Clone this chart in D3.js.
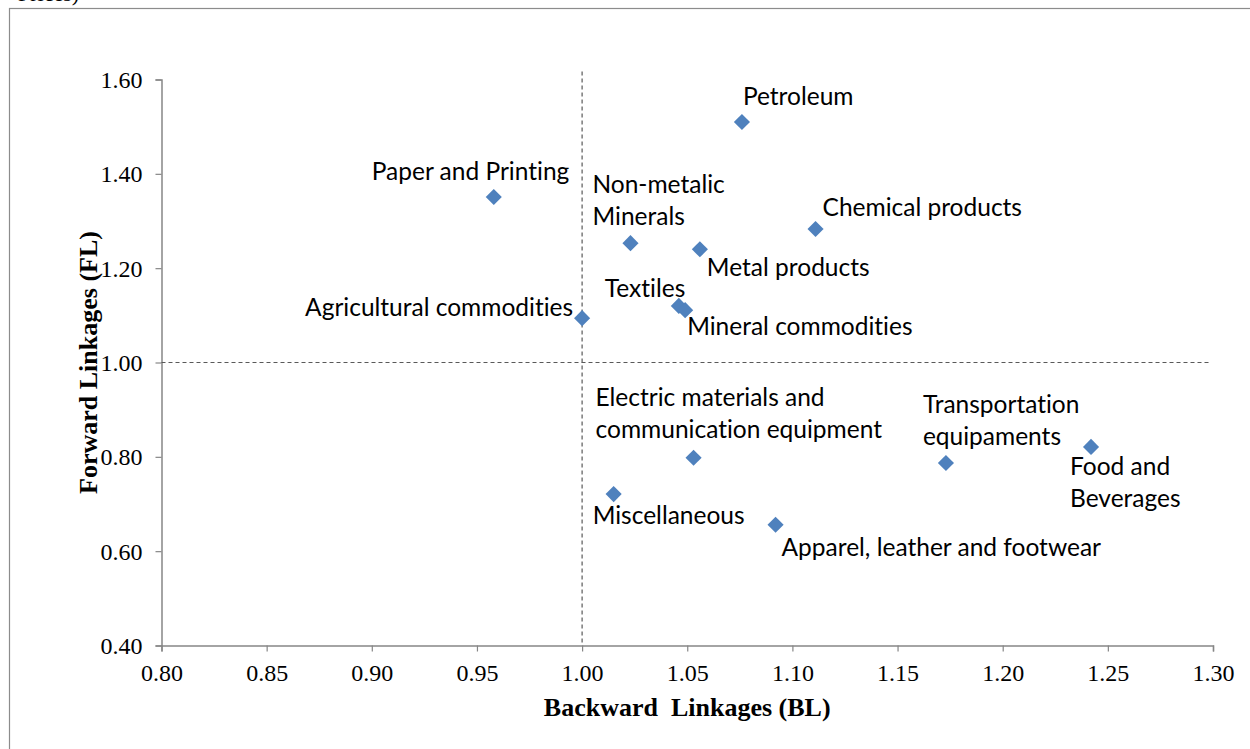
<!DOCTYPE html>
<html>
<head>
<meta charset="utf-8">
<script src="https://cdn.jsdelivr.net/npm/d3@7"></script>
<style>
  body { margin: 0; background: #fff; }
  svg { display: block; }
</style>
</head>
<body>
<svg id="chart"></svg>
<script>
// sectors and their linkage indices
const sectors = [
  'Petroleum', 'Paper and Printing', 'Non-metalic Minerals', 'Metal products',
  'Chemical products', 'Agricultural commodities', 'Textiles', 'Mineral commodities',
  'Electric materials and communication equipment', 'Miscellaneous',
  'Apparel, leather and footwear', 'Transportation equipaments', 'Food and Beverages'
];
const backward = [1.076, 0.958, 1.023, 1.056, 1.111, 1.000, 1.046, 1.049, 1.053, 1.015, 1.092, 1.173, 1.242];
const forward = [1.510, 1.351, 1.253, 1.240, 1.283, 1.094, 1.120, 1.111, 0.798, 0.721, 0.656, 0.787, 0.821];

// label text lines as they are broken in the picture
const labelLines = [
  ['Petroleum'], ['Paper and Printing'], ['Non-metalic', 'Minerals'], ['Metal products'],
  ['Chemical products'], ['Agricultural commodities'], ['Textiles'], ['Mineral commodities'],
  ['Electric materials and', 'communication equipment'], ['Miscellaneous'],
  ['Apparel, leather and footwear'], ['Transportation', 'equipaments'], ['Food and', 'Beverages']
];

const xTicks = [0.80, 0.85, 0.90, 0.95, 1.00, 1.05, 1.10, 1.15, 1.20, 1.25, 1.30];
const yTicks = [0.40, 0.60, 0.80, 1.00, 1.20, 1.40, 1.60];

// label placement relative to the marker: [dx, dy of first baseline, anchor]
const labelPlace = [
  [1, -17, 'start'], [-122, -17, 'start'], [-38, -50, 'start'], [7, 27, 'start'],
  [7, -13, 'start'], [-9, -2, 'end'], [-74, -9, 'start'], [2, 25, 'start'],
  [-98, -52, 'start'], [-21, 30, 'start'], [6, 31, 'start'], [-23, -50, 'start'],
  [-21, 28, 'start']
];

const W = 1250, H = 749;
const plotLeft = 161.5, plotRight = 1213, plotTop = 79.5, plotBottom = 645.5;

const svg = d3.select('#chart').attr('width', W).attr('height', H);

// outer frame (runs past the picture on right and bottom)
svg.append('rect')
  .attr('x', 9.5).attr('y', 8.5)
  .attr('width', 1300).attr('height', 800)
  .attr('fill', 'none').attr('stroke', '#8c8c8c').attr('stroke-width', 1.2);

// caption of the page above, only its lower edge shows
svg.append('text')
  .attr('x', 18).attr('y', 1)
  .attr('font-family', 'Liberation Serif, serif').attr('font-size', 22)
  .text('Prices)');

const xScale = d3.scaleLinear().domain([0.80, 1.30]).range([plotLeft, plotRight]);
const yScale = d3.scaleLinear().domain([0.40, 1.60]).range([plotBottom, plotTop]);

const axisColor = '#868686';
const tickFont = 'Liberation Serif, Times New Roman, serif';

const xAxis = svg.append('g')
  .attr('transform', `translate(0, ${plotBottom})`)
  .call(d3.axisBottom(xScale).tickValues(xTicks).tickFormat(d3.format('.2f')).tickSizeOuter(0).tickSize(6).tickPadding(14));
const yAxis = svg.append('g')
  .attr('transform', `translate(${plotLeft}, 0)`)
  .call(d3.axisLeft(yScale).tickValues(yTicks).tickFormat(d3.format('.2f')).tickSizeOuter(0).tickSize(6).tickPadding(13));

[xAxis, yAxis].forEach(ax => {
  ax.select('.domain').attr('stroke', axisColor).attr('stroke-width', 1.5);
  ax.selectAll('.tick line').attr('stroke', axisColor).attr('stroke-width', 1.2);
  ax.selectAll('.tick text')
    .attr('font-family', tickFont).attr('font-size', 24).attr('fill', '#000');
});
xAxis.selectAll('.tick text').attr('dy', '0.66em');
yAxis.selectAll('.tick text').attr('dy', '0.33em');

// dashed reference lines at 1.00
svg.append('line')
  .attr('x1', xScale(1.0)).attr('x2', xScale(1.0))
  .attr('y1', yScale(1.617)).attr('y2', plotBottom)
  .attr('stroke', '#595959').attr('stroke-width', 1.2).attr('stroke-dasharray', '4,3');
svg.append('line')
  .attr('x1', plotLeft).attr('x2', xScale(1.298))
  .attr('y1', yScale(1.0)).attr('y2', yScale(1.0))
  .attr('stroke', '#595959').attr('stroke-width', 1.2).attr('stroke-dasharray', '4,3');

// axis titles
svg.append('text')
  .attr('x', (plotLeft + plotRight) / 2).attr('y', 716)
  .attr('text-anchor', 'middle')
  .attr('font-family', tickFont).attr('font-weight', 'bold').attr('font-size', 26)
  .attr('xml:space', 'preserve')
  .text('Backward  Linkages (BL)');
svg.append('text')
  .attr('transform', `translate(97, ${(plotTop + plotBottom) / 2}) rotate(-90)`)
  .attr('text-anchor', 'middle')
  .attr('font-family', tickFont).attr('font-weight', 'bold').attr('font-size', 26)
  .text('Forward Linkages (FL)');

// markers
const points = sectors.map((name, i) => ({
  name, bl: backward[i], fl: forward[i], lines: labelLines[i], place: labelPlace[i]
}));

const diamond = d3.symbol().type(d3.symbolSquare).size(130);
svg.append('g').selectAll('path')
  .data(points)
  .enter()
  .append('path')
  .attr('d', diamond)
  .attr('transform', d => `translate(${xScale(d.bl)}, ${yScale(d.fl)}) rotate(45)`)
  .attr('fill', '#4f81bd');

// data labels
const labels = svg.append('g').selectAll('text')
  .data(points)
  .enter()
  .append('text')
  .attr('font-family', 'Lato, Carlito, sans-serif')
  .attr('font-size', 24.5)
  .style('font-variant-ligatures', 'none')
  .attr('fill', '#000')
  .attr('text-anchor', d => d.place[2])
  .attr('x', d => xScale(d.bl) + d.place[0])
  .attr('y', d => yScale(d.fl) + d.place[1]);

labels.selectAll('tspan')
  .data(d => d.lines.map((t, j) => ({t, j, x: xScale(d.bl) + d.place[0]})))
  .enter()
  .append('tspan')
  .attr('x', d => d.x)
  .attr('dy', d => d.j === 0 ? 0 : 32)
  .text(d => d.t);
</script>
</body>
</html>
